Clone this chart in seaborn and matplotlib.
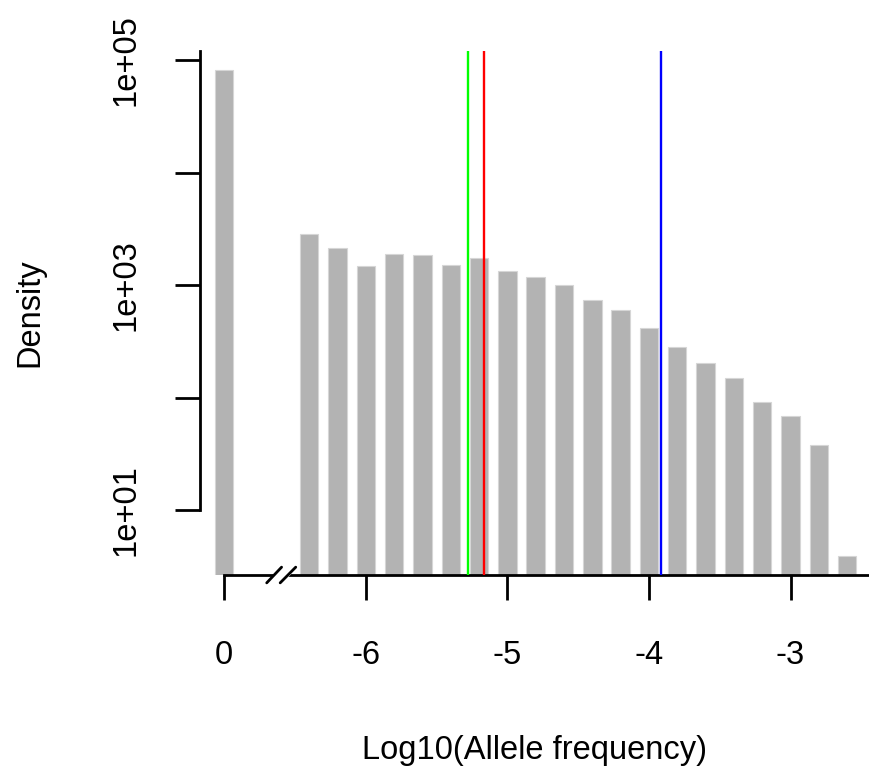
import numpy as np
import pandas as pd
import matplotlib
matplotlib.use("Agg")
import matplotlib.pyplot as plt
import matplotlib.transforms as mtransforms
import seaborn as sns

# bin centres on the log10 axis; the zero-frequency bin sits at -7 and is labelled "0"
bin_pos = [-7.0, -6.4, -6.2, -6.0, -5.8, -5.6, -5.4, -5.2, -5.0, -4.8, -4.6,
           -4.4, -4.2, -4.0, -3.8, -3.6, -3.4, -3.2, -3.0, -2.8, -2.6]
density = [81000, 2825, 2150, 1490, 1900, 1860, 1520, 1755, 1340, 1170, 1005,
           730, 603, 413, 282, 203, 148, 91, 68, 38, 3.9]

# vertical reference lines
line_pos = [-5.276, -5.163, -3.912]
line_colors = ["#00FF00", "#FF0000", "#0000FF"]

x_ticks = [-7, -6, -5, -4, -3]
x_labels = ["0", "-6", "-5", "-4", "-3"]
y_ticks = [1e1, 1e2, 1e3, 1e4, 1e5]
y_labels = ["1e+01", "", "1e+03", "", "1e+05"]

sns.set_theme(style="white")
plt.rcParams["font.family"] = ["Liberation Sans", "DejaVu Sans"]

df = pd.DataFrame({"pos": bin_pos, "density": density})

fig = plt.figure(figsize=(8.69, 7.71), dpi=100)
ax = fig.add_axes([0.2302, 0.2542, 0.7698, 0.6796])

sns.barplot(data=df, x="pos", y="density", native_scale=True, color="#B3B3B3",
            saturation=1, width=0.65, errorbar=None, edgecolor="#D6D6D6",
            linewidth=0.8, ax=ax)
ax.set_yscale("log")

for xp, c in zip(line_pos, line_colors):
    ax.axvline(xp, color=c, lw=1.7, zorder=3)

xmin, xmax = -7.171, -2.4455
ymin, ymax = 10 ** 0.4222, 10 ** 5.08
ax.set_xlim(xmin, xmax)
ax.set_ylim(ymin, ymax)

for s in ["top", "right"]:
    ax.spines[s].set_visible(False)
for s in ["left", "bottom"]:
    ax.spines[s].set_color("black")
    ax.spines[s].set_linewidth(2)
ax.spines["left"].set_bounds(1e1, ymax)
ax.spines["bottom"].set_bounds(-7, xmax)

ax.set_xticks(x_ticks)
ax.set_xticklabels(x_labels)
ax.set_yticks(y_ticks)
ax.set_yticklabels(y_labels, rotation=90, va="center")
ax.minorticks_off()
ax.tick_params(axis="both", which="major", direction="out", length=18, width=2,
               color="black", labelsize=23.5, labelcolor="black",
               bottom=True, left=True)
ax.tick_params(axis="x", pad=29)
ax.tick_params(axis="y", pad=24)

ax.set_xlabel("Log10(Allele frequency)", fontsize=23.5, labelpad=46, color="black")
ax.set_ylabel("Density", fontsize=23.5, labelpad=47, color="black")

# axis break on the x axis
tr = mtransforms.blended_transform_factory(ax.transData, ax.transAxes)
ax.fill([-6.69, -6.59, -6.49, -6.59], [-0.015, -0.015, 0.015, 0.015],
        color="white", transform=tr, clip_on=False, zorder=4)
ax.plot([-6.70, -6.595], [-0.015, 0.015], color="black", lw=2,
        transform=tr, clip_on=False, zorder=5)
ax.plot([-6.605, -6.495], [-0.015, 0.015], color="black", lw=2,
        transform=tr, clip_on=False, zorder=5)

fig.savefig("out.png", dpi=100)
